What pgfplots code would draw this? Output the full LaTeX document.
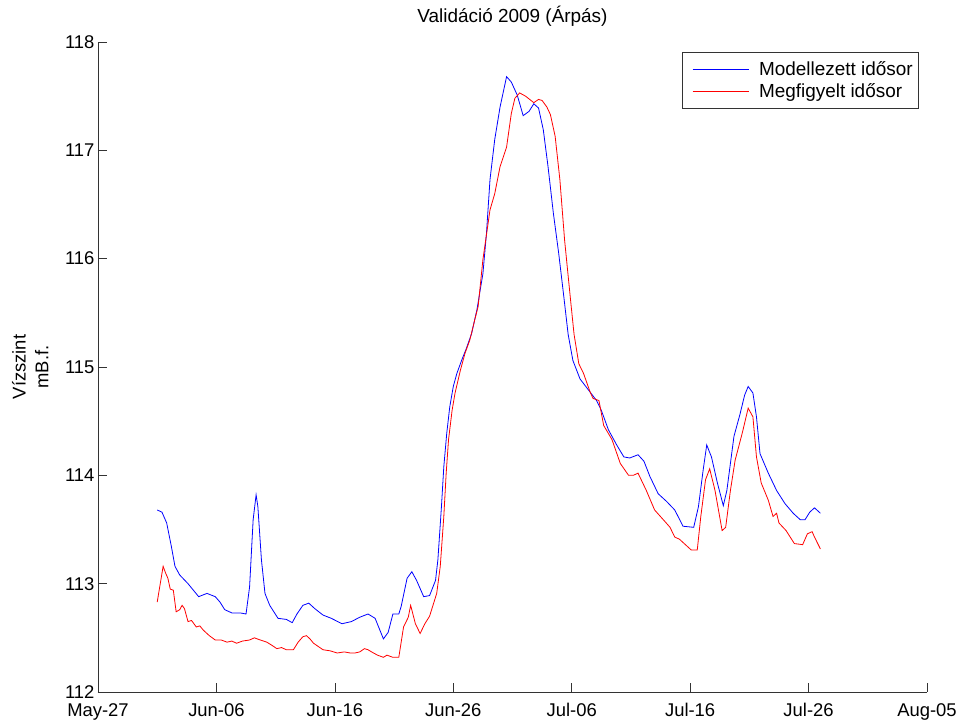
\documentclass[border=0pt]{standalone}
\usepackage{fontspec}
\setmainfont{Liberation Sans}
\usepackage{pgfplots}
\pgfplotsset{compat=1.18}
\usetikzlibrary{calc}

% Water level, days counted from May-27 (2009)
\pgfplotstableread{
day level
5.0 113.68
5.4 113.66
5.8 113.56
6.2 113.34
6.5 113.16
6.9 113.08
7.6 113.00
8.5 112.88
9.2 112.91
9.9 112.88
10.3 112.83
10.7 112.76
11.3 112.73
12.0 112.73
12.5 112.72
12.8 112.97
13.1 113.59
13.35 113.82
13.5 113.71
13.8 113.22
14.1 112.91
14.5 112.80
15.2 112.68
15.9 112.67
16.4 112.64
16.8 112.72
17.3 112.80
17.8 112.82
18.3 112.77
19.0 112.71
19.7 112.68
20.6 112.63
21.4 112.65
22.1 112.69
22.8 112.72
23.4 112.68
24.1 112.49
24.5 112.55
24.9 112.72
25.4 112.72
25.6 112.79
26.1 113.05
26.5 113.11
26.9 113.03
27.5 112.88
28.0 112.89
28.5 113.03
28.7 113.22
29.0 113.71
29.2 114.08
29.45 114.39
29.7 114.63
30.0 114.82
30.3 114.94
30.7 115.06
31.1 115.17
31.55 115.31
32.0 115.53
32.5 115.86
32.8 116.23
33.1 116.73
33.5 117.10
33.95 117.40
34.5 117.68
34.9 117.63
35.4 117.51
35.9 117.32
36.4 117.36
36.8 117.43
37.2 117.39
37.6 117.19
38.0 116.85
38.45 116.42
38.9 116.05
39.3 115.68
39.7 115.30
40.1 115.06
40.7 114.89
41.4 114.79
42.1 114.69
42.5 114.60
43.1 114.42
43.8 114.28
44.4 114.17
44.9 114.16
45.6 114.19
46.1 114.13
46.6 113.99
47.3 113.83
48.0 113.76
48.7 113.68
49.4 113.53
50.3 113.52
50.7 113.71
51.1 114.05
51.4 114.28
51.8 114.17
52.3 113.93
52.8 113.72
53.1 113.86
53.7 114.36
54.2 114.56
54.6 114.74
54.9 114.82
55.3 114.76
55.6 114.54
55.9 114.20
56.6 114.02
57.3 113.86
58.0 113.74
58.7 113.65
59.3 113.59
59.7 113.59
60.1 113.66
60.5 113.70
61.0 113.65
}\modelled

\pgfplotstableread{
day level
5.0 112.83
5.5 113.16
5.7 113.10
5.9 113.05
6.1 112.95
6.36 112.94
6.6 112.74
6.9 112.76
7.1 112.80
7.3 112.77
7.6 112.65
7.9 112.66
8.3 112.60
8.6 112.61
8.9 112.57
9.4 112.52
9.9 112.48
10.4 112.48
10.9 112.46
11.3 112.47
11.7 112.45
12.2 112.47
12.8 112.48
13.2 112.50
13.7 112.48
14.25 112.46
14.7 112.43
15.1 112.40
15.5 112.41
15.9 112.39
16.5 112.39
16.9 112.46
17.3 112.51
17.6 112.52
17.9 112.49
18.2 112.45
18.6 112.42
19.0 112.39
19.6 112.38
20.2 112.36
20.8 112.37
21.3 112.36
21.7 112.36
22.1 112.37
22.5 112.40
22.8 112.39
23.1 112.37
23.6 112.34
24.1 112.32
24.4 112.34
24.9 112.32
25.4 112.32
25.8 112.60
26.2 112.69
26.4 112.80
26.8 112.63
27.2 112.54
27.6 112.63
28.0 112.70
28.2 112.77
28.6 112.91
28.9 113.16
29.2 113.62
29.4 114.02
29.6 114.33
29.9 114.60
30.15 114.76
30.6 114.97
31.0 115.13
31.4 115.25
31.8 115.43
32.1 115.56
32.5 115.99
33.1 116.45
33.5 116.60
33.95 116.85
34.5 117.03
34.9 117.34
35.2 117.48
35.6 117.53
36.1 117.50
36.8 117.44
37.2 117.47
37.5 117.46
37.9 117.40
38.2 117.33
38.6 117.13
39.0 116.73
39.4 116.17
39.9 115.62
40.2 115.30
40.6 115.03
41.0 114.94
41.55 114.77
41.8 114.71
42.3 114.69
42.7 114.46
43.4 114.33
44.1 114.11
44.8 114.00
45.2 114.00
45.6 114.02
46.3 113.86
47.0 113.68
47.9 113.57
48.3 113.52
48.7 113.43
49.1 113.41
49.5 113.37
50.1 113.31
50.6 113.31
50.9 113.62
51.3 113.96
51.65 114.06
52.1 113.86
52.7 113.49
53.0 113.52
53.4 113.86
53.8 114.14
54.4 114.39
54.9 114.62
55.3 114.54
55.6 114.17
56.0 113.93
56.6 113.77
57.0 113.62
57.3 113.65
57.5 113.56
58.1 113.49
58.8 113.37
59.5 113.36
59.9 113.46
60.3 113.48
60.5 113.43
61.0 113.32
}\observed

\begin{document}
\begin{tikzpicture}
\begin{axis}[
  scale only axis,
  width=829bp, height=650bp,
  xmin=0, xmax=70, ymin=112, ymax=118,
  axis x line=bottom, axis y line=left,
  axis line style={-, black!80, line width=0.6bp},
  tick style={black!80, line width=0.6bp},
  tick align=inside,
  major tick length=8.5bp,
  xtick={0,10,20,30,40,50,60,70},
  xticklabels={May-27,Jun-06,Jun-16,Jun-26,Jul-06,Jul-16,Jul-26,Aug-05},
  ytick={112,113,114,115,116,117,118},
  /pgf/number format/assume math mode=true,
  ticklabel style={font=\fontsize{18.5}{20}\selectfont},
  xticklabel style={yshift=-8bp},
  title={Validáció 2009 (Árpás)},
  title style={font=\fontsize{19}{21}\selectfont, at={(axis description cs:0.5,1)}, anchor=base, yshift=14bp},
  ylabel={Vízszint\\mB.f.},
  ylabel style={font=\fontsize{18.5}{23}\selectfont, align=center, rotate=0,
    at={(axis description cs:-0.0555,0.5)}, anchor=south},
  legend style={at={(rel axis cs:0.9903,0.9846)}, anchor=north east,
    draw=black!80, line width=0.6bp, font=\fontsize{19}{23}\selectfont,
    inner xsep=4bp, inner ysep=7bp, row sep=3bp,
    cells={anchor=west},
    nodes={inner sep=2bp},
    /tikz/every odd column/.append style={column sep=8bp}},
  legend image code/.code={\path (0bp,0bp); \draw[#1, line width=0.8bp] (6bp,0bp) -- (62bp,0bp);},
  legend cell align=left,
]
\addplot[blue, line width=0.8bp] table[x=day, y=level] {\modelled};
\addlegendentry{Modellezett idősor}
\addplot[red, line width=0.8bp] table[x=day, y=level] {\observed};
\addlegendentry{Megfigyelt idősor}
\end{axis}
\pgfresetboundingbox
\path[use as bounding box] ($(current axis.south west)+(-98bp,-31bp)$) rectangle ($(current axis.north east)+(36bp,42bp)$);
\end{tikzpicture}
\end{document}
